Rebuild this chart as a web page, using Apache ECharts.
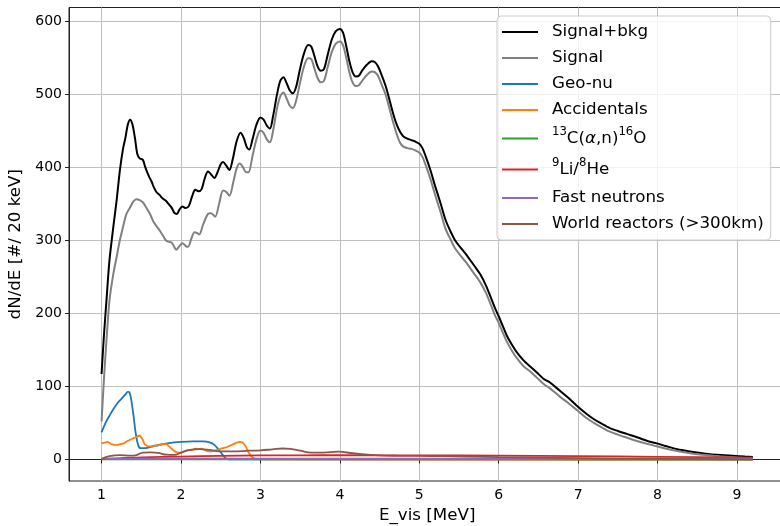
<!DOCTYPE html>
<html><head><meta charset="utf-8">
<script src="https://cdn.jsdelivr.net/npm/echarts@6/dist/echarts.min.js"></script>
<style>html,body{margin:0;padding:0;background:#fff}#c{width:780px;height:526px}</style>
</head><body><div id="c"></div><script>
const xTicks=[1,2,3,4,5,6,7,8,9];
const yTicks=[0,100,200,300,400,500,600];
const names=['Signal+bkg','Signal','Geo-nu','Accidentals','13C(α,n)16O','9Li/8He','Fast neutrons','World reactors (>300km)'];
const colors=['#000000','#808080','#1f77b4','#ff7f0e','#2ca02c','#d62728','#9467bd','#8c564b'];

const totalE=[1.00,1.03,1.06,1.10,1.15,1.19,1.23,1.27,1.30,1.33,1.36,1.39,1.42,1.45,1.48,1.52,1.55,1.59,1.63,1.66,1.69,1.73,1.77,1.81,1.84,1.88,1.92,1.95,1.98,2.02,2.06,2.10,2.14,2.18,2.22,2.26,2.30,2.34,2.38,2.42,2.46,2.50,2.53,2.57,2.61,2.65,2.70,2.75,2.79,2.83,2.86,2.90,2.95,3.00,3.04,3.08,3.12,3.16,3.21,3.25,3.29,3.33,3.37,3.41,3.45,3.50,3.55,3.60,3.64,3.68,3.72,3.76,3.80,3.85,3.90,3.95,4.00,4.04,4.08,4.12,4.16,4.20,4.24,4.28,4.34,4.40,4.44,4.48,4.53,4.58,4.63,4.68,4.72,4.76,4.80,4.85,4.90,4.95,5.00,5.04,5.08,5.14,5.20,5.27,5.33,5.39,5.45,5.52,5.58,5.64,5.70,5.77,5.84,5.90,5.95,6.00,6.05,6.10,6.15,6.22,6.31,6.40,6.48,6.57,6.65,6.77,6.88,6.98,7.10,7.20,7.28,7.40,7.50,7.61,7.75,7.88,7.99,8.10,8.25,8.41,8.60,8.80,8.95,9.10,9.20];
const totalV=[117,170,215,273,320,355,395,425,440,458,465,458,440,418,412,410,400,389,380,372,366,362,357,354,350,345,337,336,342,346,344,347,360,369,367,370,385,394,390,385,393,404,407,402,396,410,435,447,440,427,424,438,458,468,465,457,453,470,500,518,523,515,505,501,510,535,556,567,565,552,538,532,534,555,575,586,589,584,566,545,530,524,525,532,540,545,544,538,525,510,490,470,457,448,442,439,437,435,432,426,415,396,374,350,328,313,300,290,282,273,264,253,238,222,208,196,183,170,160,148,136,127,119,110,105,94,84,74,63,55,50,43,39,35,30,25,22,18.5,14,11,8,6,5,4,3.5];

const signalE=[1.00,1.03,1.06,1.10,1.15,1.19,1.23,1.27,1.31,1.36,1.40,1.44,1.48,1.52,1.56,1.61,1.65,1.70,1.74,1.78,1.81,1.84,1.88,1.91,1.94,1.98,2.02,2.06,2.09,2.13,2.17,2.20,2.23,2.28,2.34,2.38,2.43,2.48,2.53,2.57,2.61,2.66,2.70,2.74,2.78,2.82,2.85,2.90,2.95,3.00,3.04,3.08,3.12,3.16,3.21,3.25,3.29,3.33,3.37,3.41,3.45,3.50,3.55,3.60,3.64,3.68,3.72,3.76,3.80,3.85,3.90,3.95,4.00,4.04,4.08,4.12,4.16,4.20,4.24,4.28,4.34,4.40,4.44,4.48,4.53,4.58,4.63,4.68,4.72,4.76,4.80,4.85,4.90,4.95,5.00,5.04,5.08,5.14,5.20,5.27,5.33,5.39,5.45,5.52,5.58,5.64,5.70,5.77,5.84,5.90,5.95,6.00,6.05,6.10,6.15,6.22,6.31,6.40,6.48,6.57,6.65,6.77,6.88,6.98,7.10,7.20,7.28,7.40,7.50,7.61,7.75,7.88,7.99,8.10,8.25,8.41,8.60,8.80,8.95,9.10,9.20];
const signalV=[52,110,160,218,255,277,300,318,335,345,353,356,355,352,345,336,326,318,312,305,300,298,297,292,287,292,296,292,291,302,311,310,308,322,336,337,332,350,368,366,361,380,398,405,400,393,393,415,438,450,447,438,434,450,481,497,502,494,484,481,491,516,538,549,548,535,522,516,518,538,558,569,572,567,550,530,516,511,512,518,526,531,530,525,512,498,478,458,444,433,428,426,425,423,420,414,403,384,362,338,316,302,289,279,271,262,253,242,228,212,198,187,174,162,152,140,128,120,112,103,97,86,77,68,57,50,45,38,34,30,25,21,18,15,11.5,8.5,6,4,3,2,1.5];

const geoE=[1.00,1.05,1.10,1.15,1.20,1.25,1.30,1.33,1.35,1.37,1.40,1.43,1.46,1.49,1.55,1.65,1.75,1.85,2.00,2.15,2.28,2.36,2.42,2.47,2.52,2.56,2.60,2.80,4.00,6.00,9.20];
const geoV=[37,50,60,69,77,83,89,92.5,92,84,62,36,20,15.5,15.5,18,20.5,22.5,24,24.8,24.7,23.5,20,14,7,2,0.3,0.1,0,0,0];

const accE=[1.00,1.02,1.04,1.06,1.08,1.10,1.12,1.14,1.16,1.18,1.20,1.22,1.24,1.26,1.28,1.30,1.32,1.34,1.36,1.38,1.40,1.42,1.44,1.46,1.48,1.50,1.52,1.54,1.56,1.58,1.60,1.62,1.64,1.66,1.68,1.70,1.72,1.74,1.76,1.78,1.80,1.82,1.84,1.86,1.88,1.90,1.92,1.94,1.96,1.98,2.00,2.02,2.04,2.06,2.08,2.10,2.12,2.14,2.16,2.18,2.20,2.22,2.24,2.26,2.28,2.30,2.32,2.34,2.36,2.38,2.40,2.42,2.44,2.46,2.48,2.50,2.52,2.54,2.56,2.58,2.60,2.62,2.64,2.66,2.68,2.70,2.72,2.74,2.76,2.78,2.80,2.82,2.84,2.86,2.88,2.90,2.92,2.95,3.00,5.00,9.20];
const accV=[22,24,23,25,24,23,21,22,20,21,20,22,21,23,22,24,25,26,27,28,29,29,31,32,33,32,27,21,19,18,19,18,20,19,20,19,21,20,22,21,22,21,19,17,15,13,11,10,10,9,9,10,11,12,13,13,14,13,14,15,15,14,15,15,14,13,12,11,11,11,12,12,13,13,14,15,15,16,16,17,18,19,20,21,22,23,23,24,25,23,21,17,12,8,5,2.5,1.5,0.5,0.2,0,0];

const carbonE=[1.0,2.0,3.0,4.0,5.0,6.0,7.0,8.0,9.2];
const carbonV=[0.3,0.3,0.3,0.4,0.6,0.5,0.3,0.2,0.1];

const liheE=[1.0,1.2,1.5,2.0,2.5,3.0,3.5,4.0,5.0,6.0,7.0,8.0,9.2];
const liheV=[0.3,1.5,2.8,4,5,5.5,5.7,5.8,5.6,5.2,4.6,3.6,2.5];

const fastE=[1.0,3.0,5.0,7.0,9.2];
const fastV=[1,1,1,1,1];

const worldE=[1.00,1.10,1.23,1.36,1.44,1.52,1.62,1.71,1.82,1.92,2.00,2.11,2.23,2.36,2.48,2.65,2.86,3.00,3.15,3.28,3.38,3.50,3.64,3.80,3.98,4.16,4.35,4.50,4.75,5.00,5.30,5.60,6.00,6.50,7.00,7.50,8.00,8.60,9.20];
const worldV=[1,4.5,6,5.2,6,9.5,9.8,9,6.5,6.2,9.5,13,14.3,13,11,11,12,12.5,13.8,15,14.5,12,9.3,9.5,10.7,8.5,6.5,5.5,5,4.8,4.5,4,3.2,2.5,1.8,1.2,0.8,0.4,0.2];

const zip=(a,b)=>a.map((x,i)=>[x,b[i]]);
const dataSets=[[totalE,totalV],[signalE,signalV],[geoE,geoV],[accE,accV],[carbonE,carbonV],[liheE,liheV],[fastE,fastV],[worldE,worldV]];
const smoothFlags=[0.3,0.3,0.3,false,0.3,0.3,false,0.4];

const FONT='DejaVu Sans';
const chart=echarts.init(document.getElementById('c'),null,{renderer:'canvas'});
chart.setOption({
  animation:false,
  backgroundColor:'#ffffff',
  grid:{left:69,right:-5.4,top:7.5,bottom:45,show:true,borderColor:'#222',borderWidth:1,backgroundColor:'transparent',
    containLabel:false,outerBoundsMode:'none'},
  xAxis:{type:'value',min:0.59,max:9.61,
    name:'E_vis [MeV]',nameLocation:'middle',nameGap:26,
    nameTextStyle:{fontFamily:FONT,fontSize:16.7,color:'#000'},
    axisLine:{show:true,lineStyle:{color:'#222',width:1}},
    axisTick:{show:true,customValues:xTicks,length:4,lineStyle:{color:'#222'}},
    axisLabel:{customValues:xTicks,fontFamily:FONT,fontSize:14,color:'#000',margin:7},
    splitLine:{show:true,lineStyle:{color:'#c0c0c0',width:1}}},
  yAxis:{type:'value',min:-29.45,max:618.45,
    name:'dN/dE [#/ 20 keV]',nameLocation:'middle',nameGap:38,nameRotate:90,
    nameTextStyle:{fontFamily:FONT,fontSize:16.7,color:'#000'},
    axisLine:{show:true,lineStyle:{color:'#222',width:1}},
    axisTick:{show:true,customValues:yTicks,length:4,lineStyle:{color:'#222'}},
    axisLabel:{customValues:yTicks,fontFamily:FONT,fontSize:14,color:'#000',margin:7},
    splitLine:{show:true,lineStyle:{color:'#c0c0c0',width:1}}},
  legend:{orient:'vertical',left:497,top:16,padding:[6,7,6,5],itemGap:6,itemWidth:36,itemHeight:2,
    icon:'rect',
    backgroundColor:'rgba(255,255,255,0.8)',borderColor:'#cccccc',borderWidth:1,borderRadius:4,
    data:names,
    formatter:function(n){
      if(n==='13C(α,n)16O') return '{sup|13}{m|C(}{it|α}{m|,n)}{sup|16}{m|O}';
      if(n==='9Li/8He') return '{sup|9}{m|Li/}{sup|8}{m|He}';
      return n;
    },
    textStyle:{fontFamily:FONT,fontSize:16.7,color:'#000',lineHeight:20,padding:[0,0,0,9],
      rich:{sup:{fontFamily:FONT,fontSize:11.7,color:'#000',verticalAlign:'top',lineHeight:25},
            m:{fontFamily:FONT,fontSize:16.7,color:'#000',lineHeight:25,verticalAlign:'middle'},
            it:{fontFamily:FONT,fontSize:16.7,fontStyle:'italic',color:'#000',lineHeight:25,verticalAlign:'middle'}}}},
  series:names.map((n,i)=>({name:n,type:'line',data:zip(dataSets[i][0],dataSets[i][1]),
    showSymbol:false,symbol:'none',smooth:smoothFlags[i],color:colors[i],
    lineStyle:{color:colors[i],width:i<2?2:1.8},z:2+i}))
});
</script></body></html>
